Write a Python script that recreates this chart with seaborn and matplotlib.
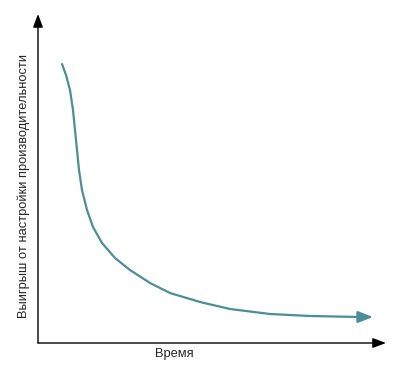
import seaborn as sns
import pandas as pd
import matplotlib.pyplot as plt

# Curve (arbitrary units: time vs gain)
time = [24, 28, 32, 35, 37, 39, 41, 44, 49, 55, 64, 77, 92, 112, 132, 162, 192, 232, 272, 322]
gain = [279, 268, 253, 233, 213, 193, 173, 153, 133, 116, 100, 85, 73, 60, 50, 41, 34, 29, 27, 26]

x_label = 'Время'
y_label = 'Выигрыш от настройки производительности'

sns.set_style('white')
plt.rcParams['font.family'] = ['Liberation Sans', 'DejaVu Sans']

df = pd.DataFrame({'time': time, 'gain': gain})

fig = plt.figure(figsize=(4.09, 3.72), dpi=100)
ax = fig.add_axes([38 / 409, 29 / 372, 348 / 409, 329 / 372])

teal = '#4a8e98'
sns.lineplot(data=df, x='time', y='gain', color=teal, linewidth=1.6, ax=ax)
# arrowhead at the end of the curve
ax.annotate('', xy=(time[-1] + 13, gain[-1]), xytext=(time[-1] - 1, gain[-1]),
            arrowprops=dict(arrowstyle='-|>,head_length=0.9,head_width=0.35',
                            color=teal, lw=1.6, shrinkA=0, shrinkB=0))

ax.set_xlim(0, 348)
ax.set_ylim(0, 329)
for s in ax.spines.values():
    s.set_visible(False)
ax.set_xticks([])
ax.set_yticks([])
ax.set_xlabel('')
ax.set_ylabel('')

# axes drawn as arrows
arrow = dict(arrowstyle='-|>,head_length=0.8,head_width=0.3', color='black', lw=1,
             shrinkA=0, shrinkB=0)
ax.annotate('', xy=(1, 0), xytext=(0, 0), xycoords='axes fraction', arrowprops=arrow)
ax.annotate('', xy=(0, 1), xytext=(0, 0), xycoords='axes fraction', arrowprops=arrow)

fig.text(174 / 409, 1 - 354 / 372, x_label, ha='center', va='center', fontsize=9.3)
fig.text(24 / 409, 1 - 186 / 372, y_label, ha='center', va='center', rotation=90, fontsize=9.3)

fig.savefig('out.png', dpi=100)
